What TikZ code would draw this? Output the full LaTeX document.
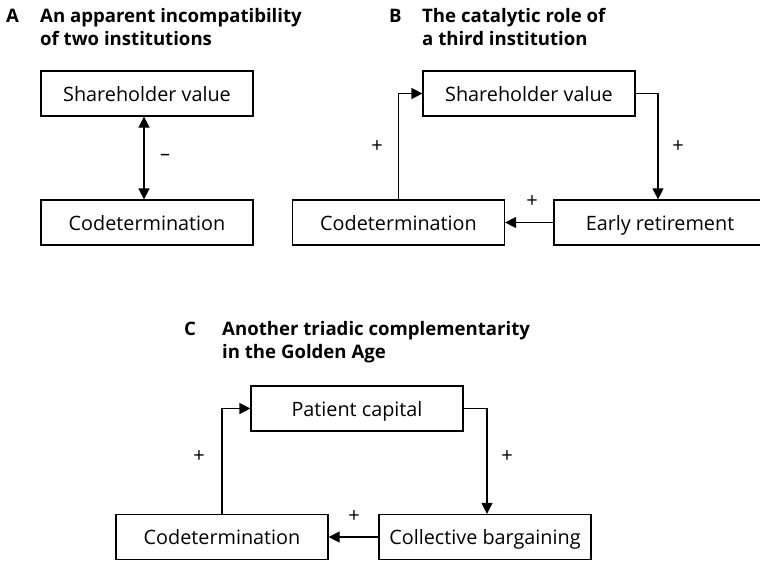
\documentclass[tikz,border=0pt]{standalone}
\usepackage{fontspec}
\setmainfont{Open Sans}
\usetikzlibrary{arrows.meta}
\begin{document}
\begin{tikzpicture}[x=1pt,y=-1pt,
  box/.style={draw,line width=1.2pt,minimum width=212pt,minimum height=45pt,inner sep=0pt,
    text height=15pt,text depth=0pt,font=\fontsize{19.8}{22}\selectfont},
  link/.style={line width=1.2pt,-{Triangle[length=11pt,width=11pt]}},
  both/.style={line width=1.2pt,{Triangle[length=11pt,width=11pt]}-{Triangle[length=11pt,width=11pt]}},
  sign/.style={font=\fontsize{20}{22}\selectfont,inner sep=0pt},
  letter/.style={anchor=base west,inner sep=0pt,font=\bfseries\fontsize{18.6}{23}\selectfont},
  title/.style={anchor=base west,inner sep=0pt,font=\bfseries\fontsize{18.6}{23}\selectfont}]
\useasboundingbox (0,0) rectangle (760,560);

% Panel A
\node[letter] (la) at (6,22) {A};
\node[title] (ta1) at (40,22) {An apparent incompatibility};
\node[title] (ta2) at (40,45) {of two institutions};
\node[box] (svA) at (147,93.5) {Shareholder value};
\node[box] (cdA) at (147,222.5) {Codetermination};
\draw[both] ([xshift=-3pt]svA.south) -- ([xshift=-3pt]cdA.north);
\node[sign] (mA) at (165,157) {\textendash};

% Panel B
\node[letter] (lb) at (389,22) {B};
\node[title] (tb1) at (422,22) {The catalytic role of};
\node[title] (tb2) at (422,45) {a third institution};
\node[box] (svB) at (529,93.5) {Shareholder value};
\node[box] (cdB) at (398.5,222.5) {Codetermination};
\node[box] (er) at (660,222.5) {Early retirement};
\draw[link] (svB.east) -| ([xshift=-2pt]er.north);
\draw[link] (er.west) -- (cdB.east);
\draw[link] (cdB.north) |- (svB.west);
\node[sign] (pB1) at (678,147) {+};
\node[sign] (pB2) at (532,202) {+};
\node[sign] (pB3) at (377,147) {+};

% Panel C
\node[letter] (lc) at (184,335) {C};
\node[title] (tc1) at (222,335) {Another triadic complementarity};
\node[title] (tc2) at (222,358) {in the Golden Age};
\node[box] (pc) at (357,408.5) {Patient capital};
\node[box] (cdC) at (222,537) {Codetermination};
\node[box] (cb) at (485,537) {Collective bargaining};
\draw[link] (pc.east) -| ([xshift=2pt]cb.north);
\draw[link] (cb.west) -- (cdC.east);
\draw[link] (cdC.north) |- (pc.west);
\node[sign] (pC1) at (507,457) {+};
\node[sign] (pC2) at (354,517) {+};
\node[sign] (pC3) at (199,457) {+};
\end{tikzpicture}
\end{document}
